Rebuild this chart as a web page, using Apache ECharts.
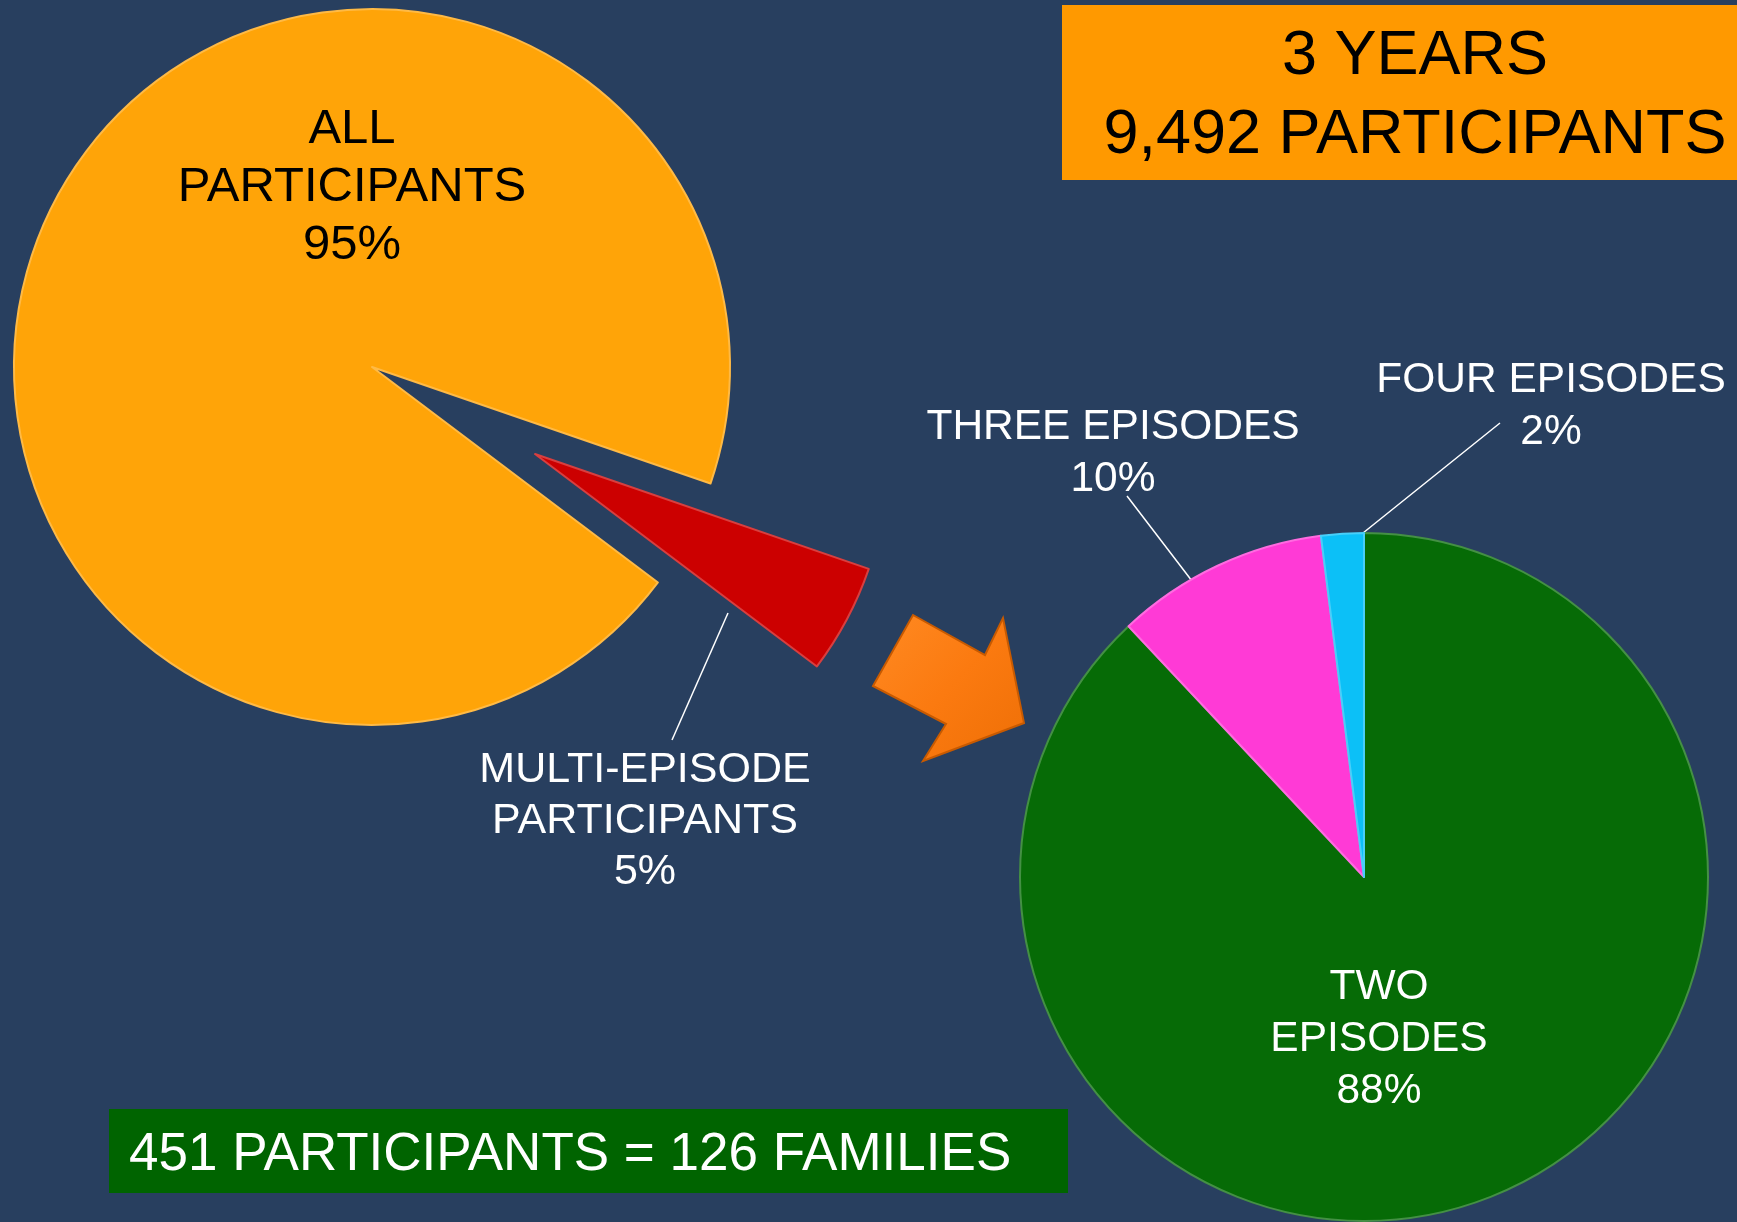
<!DOCTYPE html>
<html>
<head>
<meta charset="utf-8">
<title>Multi-episode participants</title>
<script src="https://cdn.jsdelivr.net/npm/echarts@6/dist/echarts.min.js"></script>
<style>
  html, body { margin: 0; padding: 0; background: #283f5f; }
  #chart { width: 1737px; height: 1222px; }
</style>
</head>
<body>
<div id="chart"></div>
<script>
// ---- data ----
var allNames = ['MULTI-EPISODE\nPARTICIPANTS', 'ALL\nPARTICIPANTS'];
var allValues = [5, 95];
var allColors = ['#cc0000', '#ffa408'];
var allText = ['#ffffff', '#000000'];

var multiNames = ['TWO\nEPISODES', 'THREE EPISODES', 'FOUR EPISODES'];
var multiValues = [88, 10, 2];
var multiColors = ['#066b06', '#ff3ad6', '#0cc0f7'];

var titleLines = ['3 YEARS', '9,492 PARTICIPANTS'];
var footNote = '451 PARTICIPANTS = 126 FAMILIES';

// ---- layout (label centres and leader lines) ----
var leftLabels = [
    { x: 645, y: 821, lh: 51, size: 43, line: [[728, 613], [672, 740]] },
    { x: 352, y: 187, lh: 58, size: 49 }
];
var rightLabels = [
    { x: 1379, y: 1039, lh: 52, size: 42.5 },
    { x: 1113, y: 453, lh: 52, size: 42.5, line: [[1192, 581], [1127, 496]] },
    { x: 1551, y: 406, lh: 52, size: 42.5, line: [[1363, 533], [1500, 423]] }
];

var FONT = '"Liberation Sans", Arial, sans-serif';

function darker(hex) {
    return echarts.color.lift(hex, 0.25);
}

// build the slices; "keep" hides all slices except that one (used for the exploded piece)
function slices(names, values, colors, textColors, labels, keep) {
    return values.map(function (v, i) {
        var on = (keep == null || keep === i);
        var hasLine = !!labels[i].line;
        return {
            name: names[i],
            value: v,
            itemStyle: on ? {
                color: colors[i],
                borderColor: darker(colors[i]),
                borderWidth: 2
            } : { color: 'rgba(0,0,0,0)', borderWidth: 0 },
            label: {
                show: on,
                position: hasLine ? 'outside' : 'inside',
                color: textColors ? textColors[i] : '#ffffff',
                fontSize: labels[i].size,
                lineHeight: labels[i].lh
            },
            labelLine: {
                show: on && hasLine,
                lineStyle: { color: '#ffffff', width: 1.5 }
            }
        };
    });
}

function placer(labels) {
    return function (params) {
        var L = labels[params.dataIndex];
        var out = { x: L.x, y: L.y, align: 'center', verticalAlign: 'middle' };
        if (L.line) {
            var a = L.line[0], b = L.line[1];
            out.labelLinePoints = [a, [(a[0] + b[0]) / 2, (a[1] + b[1]) / 2], b];
        }
        return out;
    };
}

var pieBase = {
    type: 'pie',
    clockwise: true,
    avoidLabelOverlap: false,
    emphasis: { disabled: true },
    label: {
        formatter: '{b}\n{c}%',
        fontFamily: FONT
    }
};

var chart = echarts.init(document.getElementById('chart'));

var option = {
    backgroundColor: '#283f5f',
    animation: false,
    textStyle: { fontFamily: FONT },
    series: [
        // big pie, exploded slice left empty
        Object.assign({}, pieBase, {
            center: [372, 367],
            radius: 358,
            startAngle: -19,
            data: slices(allNames, allValues, allColors, allText, leftLabels, 1),
            labelLayout: placer(leftLabels)
        }),
        // the exploded 5% slice
        Object.assign({}, pieBase, {
            center: [535, 454],
            radius: 353,
            startAngle: -19,
            data: slices(allNames, allValues, allColors, allText, leftLabels, 0),
            labelLayout: placer(leftLabels)
        }),
        // breakdown of the multi-episode participants
        Object.assign({}, pieBase, {
            center: [1364, 877],
            radius: 344,
            startAngle: 90,
            data: slices(multiNames, multiValues, multiColors, null, rightLabels, null),
            labelLayout: placer(rightLabels)
        })
    ],
    graphic: [
        {
            type: 'rect',
            shape: { x: 1062, y: 5, width: 675, height: 175 },
            style: { fill: '#ff9900' }
        },
        {
            type: 'text',
            x: 1415, y: 96,
            style: {
                text: titleLines.join('\n'),
                fill: '#000000',
                fontSize: 63,
                fontFamily: FONT,
                lineHeight: 79,
                align: 'center',
                verticalAlign: 'middle'
            }
        },
        {
            type: 'rect',
            shape: { x: 109, y: 1109, width: 959, height: 84 },
            style: { fill: '#006400' }
        },
        {
            type: 'text',
            x: 129, y: 1155,
            style: {
                text: footNote,
                fill: '#ffffff',
                fontSize: 53,
                fontFamily: FONT,
                align: 'left',
                verticalAlign: 'middle'
            }
        },
        // the orange arrow between the two pies
        {
            type: 'polygon',
            shape: {
                points: [[873, 686], [913, 615], [985, 655], [1003, 618],
                         [1024, 723], [923, 761], [946, 724]]
            },
            style: {
                fill: new echarts.graphic.LinearGradient(0, 0, 1, 1, [
                    { offset: 0, color: '#ff8a22' },
                    { offset: 0.5, color: '#fb7a10' },
                    { offset: 1, color: '#ee6f06' }
                ]),
                stroke: '#c85a00',
                lineWidth: 2,
                lineJoin: 'miter'
            }
        }
    ]
};

chart.setOption(option);
</script>
</body>
</html>
